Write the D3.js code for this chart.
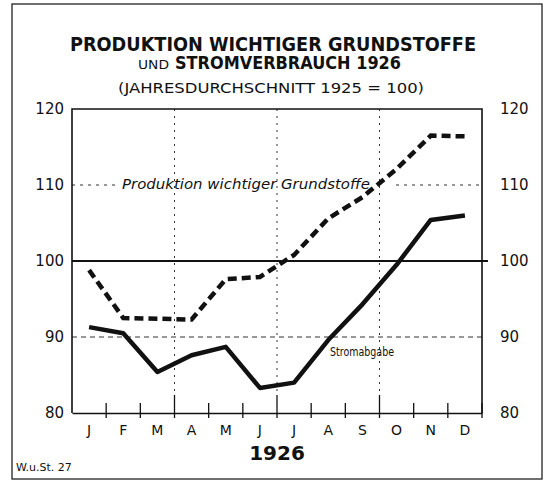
<!DOCTYPE html>
<html>
<head>
<meta charset="utf-8">
<script src="https://cdn.jsdelivr.net/npm/d3@7"></script>
<style>
  body { margin: 0; background: #fff; }
  svg { display: block; }
  text { fill: #111; font-family: "DejaVu Sans", sans-serif; }
</style>
</head>
<body>
<div id="chart"></div>
<script>
// Monatswerte 1926 (Jahresdurchschnitt 1925 = 100)
var months = ["J", "F", "M", "A", "M", "J", "J", "A", "S", "O", "N", "D"];
var produktion = [98.8, 92.5, 92.4, 92.3, 97.6, 97.9, 100.8, 105.6, 108.4, 112.1, 116.5, 116.4];
var strom = [91.3, 90.5, 85.4, 87.6, 88.7, 83.3, 84.0, 89.6, 94.3, 99.5, 105.4, 106.0];
var yTicks = [80, 90, 100, 110, 120];

var width = 547, height = 481;
var pLeft = 72, pRight = 482, pTop = 109, pBottom = 413;

var svg = d3.select("#chart").append("svg")
    .attr("width", width)
    .attr("height", height);

// Rahmen
svg.append("rect")
    .attr("x", 12).attr("y", 4)
    .attr("width", 530).attr("height", 475)
    .attr("fill", "none")
    .attr("stroke", "#222")
    .attr("stroke-width", 1.3);

var x = d3.scaleBand()
    .domain(d3.range(months.length))
    .range([pLeft, pRight])
    .paddingInner(0).paddingOuter(0);

var y = d3.scaleLinear()
    .domain([80, 120])
    .range([pBottom, pTop]);

var bw = x.bandwidth();

// Titel
svg.append("text")
    .attr("x", 273).attr("y", 51)
    .attr("text-anchor", "middle")
    .attr("font-weight", "bold")
    .attr("font-size", 20)
    .attr("textLength", 406)
    .attr("lengthAdjust", "spacingAndGlyphs")
    .text("PRODUKTION WICHTIGER GRUNDSTOFFE");

svg.append("text")
    .attr("x", 138).attr("y", 69)
    .attr("font-size", 12)
    .attr("textLength", 31)
    .attr("lengthAdjust", "spacingAndGlyphs")
    .text("UND");
svg.append("text")
    .attr("x", 175).attr("y", 69)
    .attr("font-weight", "bold")
    .attr("font-size", 18)
    .attr("textLength", 226)
    .attr("lengthAdjust", "spacingAndGlyphs")
    .text("STROMVERBRAUCH 1926");

svg.append("text")
    .attr("x", 271).attr("y", 93)
    .attr("text-anchor", "middle")
    .attr("font-size", 14.5)
    .attr("textLength", 306)
    .attr("lengthAdjust", "spacingAndGlyphs")
    .text("(JAHRESDURCHSCHNITT 1925 = 100)");

// Gitter: Quartalslinien
var quarters = [3, 6, 9];
svg.append("g").selectAll("line")
    .data(quarters)
    .enter().append("line")
    .attr("x1", function(d) { return x(d); })
    .attr("x2", function(d) { return x(d); })
    .attr("y1", pTop)
    .attr("y2", pBottom - 18)
    .attr("stroke", "#333")
    .attr("stroke-width", 1)
    .attr("stroke-dasharray", "2,5");

// 90-Linie gestrichelt
svg.append("line")
    .attr("x1", pLeft).attr("x2", pRight)
    .attr("y1", y(90)).attr("y2", y(90))
    .attr("stroke", "#333")
    .attr("stroke-dasharray", "5,4");

// 110-Linie gepunktet, mit Lücke für die Beschriftung
[[pLeft, 116], [396, pRight]].forEach(function(seg) {
    svg.append("line")
        .attr("x1", seg[0]).attr("x2", seg[1])
        .attr("y1", y(110)).attr("y2", y(110))
        .attr("stroke", "#333")
        .attr("stroke-dasharray", "3,5");
});

// 100-Linie durchgezogen
svg.append("line")
    .attr("x1", pLeft).attr("x2", pRight + 6)
    .attr("y1", y(100)).attr("y2", y(100))
    .attr("stroke", "#111")
    .attr("stroke-width", 1.8);

// Rahmen des Diagramms
svg.append("path")
    .attr("d", "M" + pLeft + "," + pBottom + "V" + pTop + "H" + pRight + "V" + pBottom)
    .attr("fill", "none")
    .attr("stroke", "#111")
    .attr("stroke-width", 1.6);

// x-Achse
var xAxis = d3.axisBottom(x).tickSize(0).tickFormat(function(d) { return months[d]; });
var gx = svg.append("g")
    .attr("transform", "translate(0," + pBottom + ")")
    .call(xAxis);
gx.select(".domain").attr("stroke", "#111").attr("stroke-width", 1.4);
gx.selectAll("text")
    .attr("dy", 0)
    .attr("y", 22)
    .attr("font-size", 14)
    .attr("font-family", "DejaVu Sans, sans-serif")
    .attr("fill", "#111");

svg.append("g").selectAll("line")
    .data(d3.range(1, months.length + 1))
    .enter().append("line")
    .attr("x1", function(d) { return d < months.length ? x(d) : pRight; })
    .attr("x2", function(d) { return d < months.length ? x(d) : pRight; })
    .attr("y1", function(d) { return quarters.indexOf(d) >= 0 ? pBottom - 18 : pBottom - 10; })
    .attr("y2", pBottom + 5)
    .attr("stroke", "#111")
    .attr("stroke-width", 1.3);

svg.append("text")
    .attr("x", x(6)).attr("y", 460)
    .attr("text-anchor", "middle")
    .attr("font-weight", "bold")
    .attr("font-size", 20)
    .text("1926");

// y-Achsen links und rechts
var gyl = svg.append("g")
    .attr("transform", "translate(" + pLeft + ",0)")
    .call(d3.axisLeft(y).tickValues(yTicks).tickSize(0).tickPadding(8));
var gyr = svg.append("g")
    .attr("transform", "translate(" + pRight + ",0)")
    .call(d3.axisRight(y).tickValues(yTicks).tickSize(0).tickPadding(18));
[gyl, gyr].forEach(function(g) {
    g.select(".domain").remove();
    g.selectAll("text")
        .attr("font-size", 15)
        .attr("font-family", "DejaVu Sans, sans-serif")
        .attr("fill", "#111");
});

// Linien
var line = d3.line()
    .x(function(d, i) { return x(i) + bw / 2; })
    .y(function(d) { return y(d); });

svg.append("path")
    .datum(produktion)
    .attr("d", line)
    .attr("fill", "none")
    .attr("stroke", "#111")
    .attr("stroke-width", 4.5)
    .attr("stroke-dasharray", "9,5");

svg.append("path")
    .datum(strom)
    .attr("d", line)
    .attr("fill", "none")
    .attr("stroke", "#111")
    .attr("stroke-width", 4.5)
    .attr("stroke-linejoin", "round");

// Beschriftungen der Linien
svg.append("text")
    .attr("x", 122).attr("y", 189)
    .attr("font-style", "italic")
    .attr("font-size", 13.5)
    .attr("textLength", 248)
    .attr("lengthAdjust", "spacingAndGlyphs")
    .text("Produktion wichtiger Grundstoffe");

svg.append("text")
    .attr("x", 330).attr("y", 356)
    .attr("font-size", 12.5)
    .attr("textLength", 64)
    .attr("lengthAdjust", "spacingAndGlyphs")
    .text("Stromabgabe");

svg.append("text")
    .attr("x", 16).attr("y", 471)
    .attr("font-size", 11)
    .text("W.u.St. 27");
</script>
</body>
</html>
